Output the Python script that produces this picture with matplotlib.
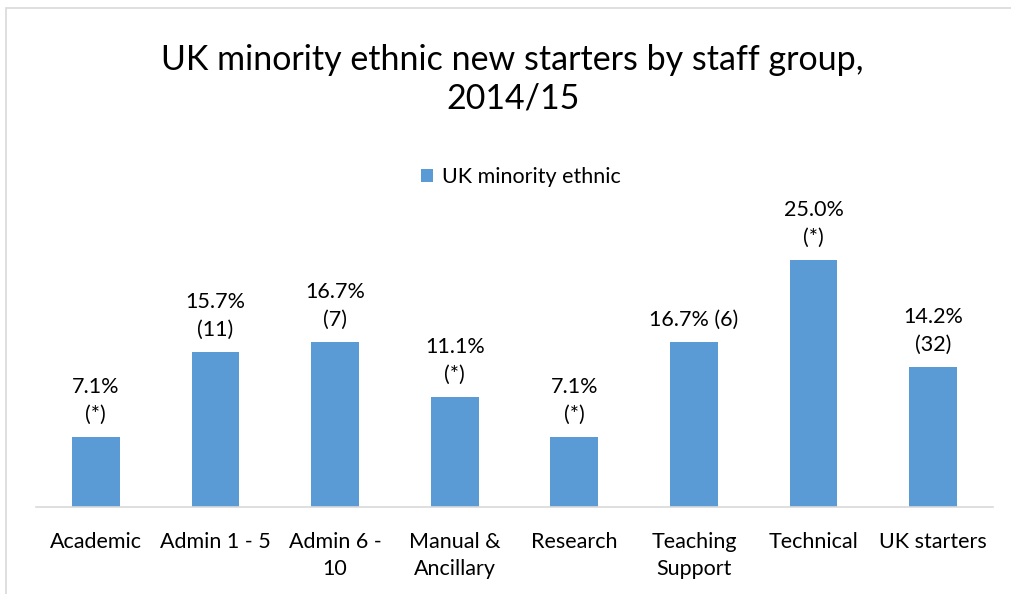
import matplotlib.pyplot as plt
from matplotlib.patches import Rectangle

categories = ["Academic", "Admin 1 - 5", "Admin 6 -\n10", "Manual &\nAncillary",
              "Research", "Teaching\nSupport", "Technical", "UK starters"]
values = [7.1, 15.7, 16.7, 11.1, 7.1, 16.7, 25.0, 14.2]
counts = ["(*)", "(11)", "(7)", "(*)", "(*)", "(6)", "(*)", "(32)"]
one_line = [False, False, False, False, False, True, False, False]

plt.rcParams['font.family'] = ['Lato', 'DejaVu Sans']

fig = plt.figure(figsize=(10.11, 5.94), dpi=100)

# light grey chart-area border (runs off the right and bottom edge)
fig.patches.append(Rectangle((6 / 1011, -0.1), 1.2, 1.1 - 8 / 594,
                             transform=fig.transFigure, fill=False,
                             edgecolor='#d9d9d9', linewidth=1.2))

ax = fig.add_axes([36 / 1011, 87 / 594, 957 / 1011, 296 / 594])
x = range(len(categories))
bars = ax.bar(x, values, width=0.4, color='#5b9bd5', label='UK minority ethnic')

for i, b in enumerate(bars):
    if one_line[i]:
        txt = f"{values[i]:.1f}% {counts[i]}"
    else:
        txt = f"{values[i]:.1f}%\n{counts[i]}"
    ax.annotate(txt, xy=(b.get_x() + b.get_width() / 2, b.get_height()),
                xytext=(0, 9), textcoords='offset points', ha='center', va='bottom',
                fontsize=15.5, color='#000000', linespacing=1.48)

ax.set_xlim(-0.5, len(categories) - 0.5)
ax.set_ylim(0, 30)
ax.set_yticks([])
ax.set_xticks(list(x))
ax.set_xticklabels(categories, fontsize=15.5, linespacing=1.45, va='top')
ax.tick_params(axis='x', length=0, pad=18)
for s in ['top', 'right', 'left']:
    ax.spines[s].set_visible(False)
ax.spines['bottom'].set_color('#d9d9d9')
ax.spines['bottom'].set_linewidth(1.2)

fig.text(0.507, 1 - 79 / 594, "UK minority ethnic new starters by staff group,\n2014/15",
         ha='center', va='center', fontsize=24.5, linespacing=1.25, color='#000000')

fig.legend(loc='center', bbox_to_anchor=(0.515, 1 - 177 / 594), frameon=False,
           fontsize=15.5, handlelength=0.6, handleheight=0.6, handletextpad=0.4)

fig.savefig('out.png', dpi=100)
